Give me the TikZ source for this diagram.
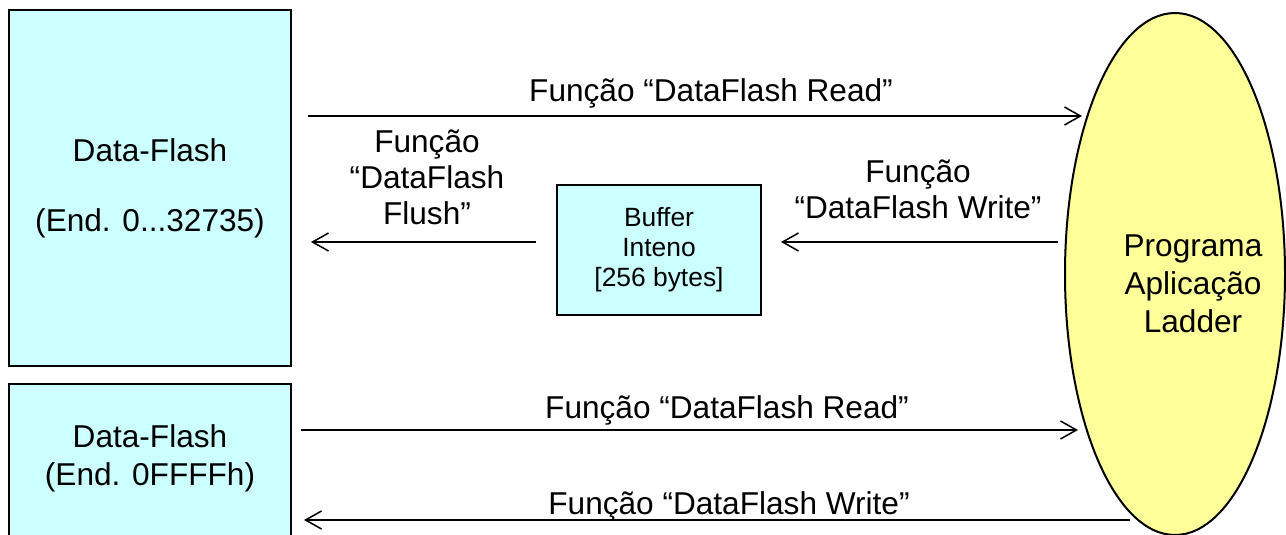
\documentclass[tikz,border=0pt]{standalone}
\usepackage{fontspec}
\setmainfont{Liberation Sans}
\usetikzlibrary{arrows.meta, shapes.geometric, positioning}
\definecolor{flashcyan}{HTML}{CCFFFF}
\definecolor{ladderyellow}{HTML}{FFFF99}

\begin{document}
\begin{tikzpicture}[x=0.5pt, y=-0.5pt,
  memory/.style={draw=black, line width=1pt, fill=flashcyan, inner sep=0pt, align=center},
  flow/.style={line width=0.75pt, -{Straight Barb[length=8pt, width=9pt, line width=0.75pt]}},
  lbl/.style={font=\fontsize{15.8}{18}\selectfont, align=center, inner sep=0pt}]
\clip (0,0) rectangle (1286,535);

% memories and buffer
\node[memory, lbl, minimum width=141pt, minimum height=178pt] (flashA) at (150,188)
  {Data-Flash\\[17pt](End. 0...32735)};
\node[memory, minimum width=141pt, minimum height=90pt, anchor=north] (flashB) at (150,383) {};
\node[lbl] (flashBtxt) at (150,458) {Data-Flash\\[1pt](End. 0FFFFh)};
\node[memory, font=\fontsize{13.2}{15}\selectfont, minimum width=102pt, minimum height=65pt]
  (buffer) at (659,250) {Buffer\\Inteno\\{[256 bytes]}};

% ladder program
\node[ellipse, draw=black, line width=1pt, fill=ladderyellow, inner sep=0pt,
  minimum width=110pt, minimum height=261pt] (ladder) at (1175,274) {};
\node[lbl, font=\fontsize{15.8}{19}\selectfont] (laddertxt) at (1193,284) {Programa\\Aplicação\\Ladder};

% arrow ends on the ellipse
\coordinate (ladderReadA) at (1082,116);
\coordinate (ladderWriteA) at (1058,242);
\coordinate (ladderReadB) at (1078,430);
\coordinate (ladderWriteB) at (1130,520);

\draw[flow, shorten <=8pt] (flashA.east |- ladderReadA) -- (ladderReadA);
\draw[flow, shorten >=9.5pt] (ladderWriteA) -- (buffer.east |- ladderWriteA);
\draw[flow, shorten <=10pt, shorten >=9.5pt] (buffer.west |- ladderWriteA) -- (flashA.east |- ladderWriteA);
\draw[flow, shorten <=4.5pt] (flashB.east |- ladderReadB) -- (ladderReadB);
\draw[flow, shorten >=6pt] (ladderWriteB) -- (flashB.east |- ladderWriteB);

% labels
\node[lbl] (readAlbl) at (711,93) {Função “DataFlash Read”};
\node[lbl] (writeAlbl) at (918,189) {Função\\“DataFlash Write”};
\node[lbl] (flushlbl) at (427,177) {Função\\“DataFlash\\Flush”};
\node[lbl] (readBlbl) at (727,410) {Função “DataFlash Read”};
\node[lbl] (writeBlbl) at (729,506) {Função “DataFlash Write”};
\end{tikzpicture}
\end{document}
